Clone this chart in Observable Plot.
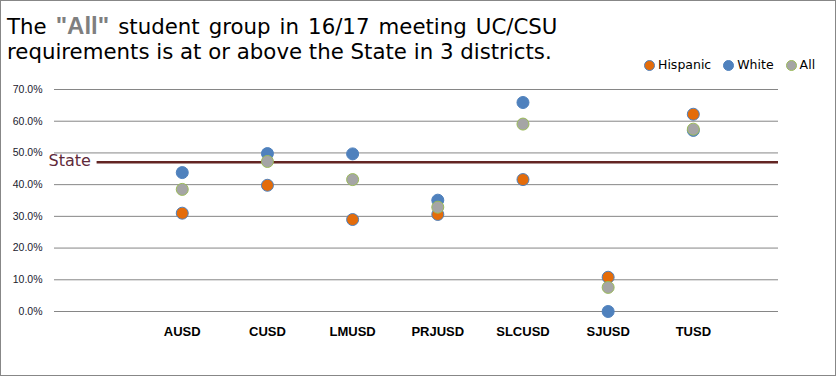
<!DOCTYPE html>
<html><head><meta charset="utf-8">
<script src="https://cdn.jsdelivr.net/npm/d3@7"></script>
<script src="https://cdn.jsdelivr.net/npm/@observablehq/plot@0.6"></script>
<style>
body{margin:0;background:#fff}
#wrap{position:relative;width:836px;height:376px;overflow:hidden;font-family:"DejaVu Sans",sans-serif;background:#fff}
#frame{position:absolute;left:0;top:0;width:836px;height:376px;border:1px solid #878787;box-sizing:border-box;pointer-events:none}
#title{position:absolute;left:7px;top:13px;font-size:21.3px;line-height:25px;color:#000;white-space:nowrap}
#title .l1{word-spacing:2.3px}
#title .all{color:#7f7f7f;font-weight:bold;font-family:"Liberation Sans",sans-serif;font-size:24px;word-spacing:0}
#legend{position:absolute;left:644px;top:57px;display:flex;align-items:center;font-size:12.5px;line-height:16px;color:#000;white-space:nowrap}
.item{display:flex;align-items:center;margin-right:12px}
.sw{width:9px;height:9px;border-radius:50%;border:1px solid;margin-right:3px}
#chart{position:absolute;left:0;top:0}
</style></head>
<body>
<div id="wrap">
  <div id="chart"></div>
  <div id="title"><span class="l1">The <span class="all">"All"</span> student group in 16/17 meeting UC/CSU</span><br>requirements is at or above the State in 3 districts.</div>
  <div id="legend"></div>
  <div id="frame"></div>
</div>
<script>
const districts = ["AUSD","CUSD","LMUSD","PRJUSD","SLCUSD","SJUSD","TUSD"];
const hispanic = [0.310, 0.398, 0.290, 0.306, 0.416, 0.108, 0.622];
const white    = [0.438, 0.498, 0.497, 0.351, 0.659, 0.000, 0.571];
const all      = [0.385, 0.473, 0.416, 0.329, 0.591, 0.076, 0.575];
const stateValue = 0.471;
const stateLabel = "State";
const yTicks = [0, 0.1, 0.2, 0.3, 0.4, 0.5, 0.6, 0.7];
const seriesNames = ["Hispanic","White","All"];
const seriesFill = ["#E46C0A","#4F81BD","#A5A5A5"];
const seriesStroke = ["#4F81BD","#4F81BD","#9BBB59"];

const seriesValues = [hispanic, white, all];
const data = seriesNames.flatMap((s, k) =>
  districts.map((d, i) => ({district: d, idx: i + 1, series: s, value: seriesValues[k][i]})));

const chart = Plot.plot({
  width: 836, height: 376,
  marginTop: 89, marginBottom: 65, marginLeft: 54, marginRight: 58,
  style: {background: "transparent", fontFamily: "'DejaVu Sans', sans-serif", overflow: "visible"},
  x: {type: "linear", domain: [-0.5, 8], axis: null},
  y: {domain: [0, 0.7], axis: null},
  marks: [
    Plot.ruleY(yTicks, {stroke: "#868686", strokeWidth: 1}),
    Plot.axisY({ticks: yTicks, tickFormat: d3.format(".1%"), tickSize: 0, tickPadding: 12,
      fontSize: 10.5, fontFamily: "'Liberation Sans', sans-serif", fill: "#1a1a2e", label: null}),
    Plot.axisX({ticks: d3.range(1, districts.length + 1), tickFormat: i => districts[i - 1],
      tickSize: 0, tickPadding: 15, fontWeight: "bold", fontSize: 13,
      fontFamily: "'Liberation Sans', sans-serif", fill: "#000", label: null}),
    Plot.ruleY([stateValue], {x1: 0, x2: 8, stroke: "#632523", strokeWidth: 2.5}),
    Plot.text([stateLabel], {x: -0.5, y: stateValue, text: d => d, dx: -6, dy: -1, textAnchor: "start",
      fill: "#5f2a3a", fontSize: 16}),
    ...seriesNames.map((s, k) => Plot.dot(data.filter(d => d.series === s),
      {x: "idx", y: "value", r: 6, fill: seriesFill[k], stroke: seriesStroke[k], strokeWidth: 1, fillOpacity: 1}))
  ]
});
document.getElementById("chart").appendChild(chart);

const legend = document.getElementById("legend");
seriesNames.forEach((s, k) => {
  const it = document.createElement("div");
  it.className = "item";
  const sw = document.createElement("span");
  sw.className = "sw";
  sw.style.background = seriesFill[k];
  sw.style.borderColor = seriesStroke[k];
  it.appendChild(sw);
  it.appendChild(document.createTextNode(s));
  legend.appendChild(it);
});
</script>
</body></html>
